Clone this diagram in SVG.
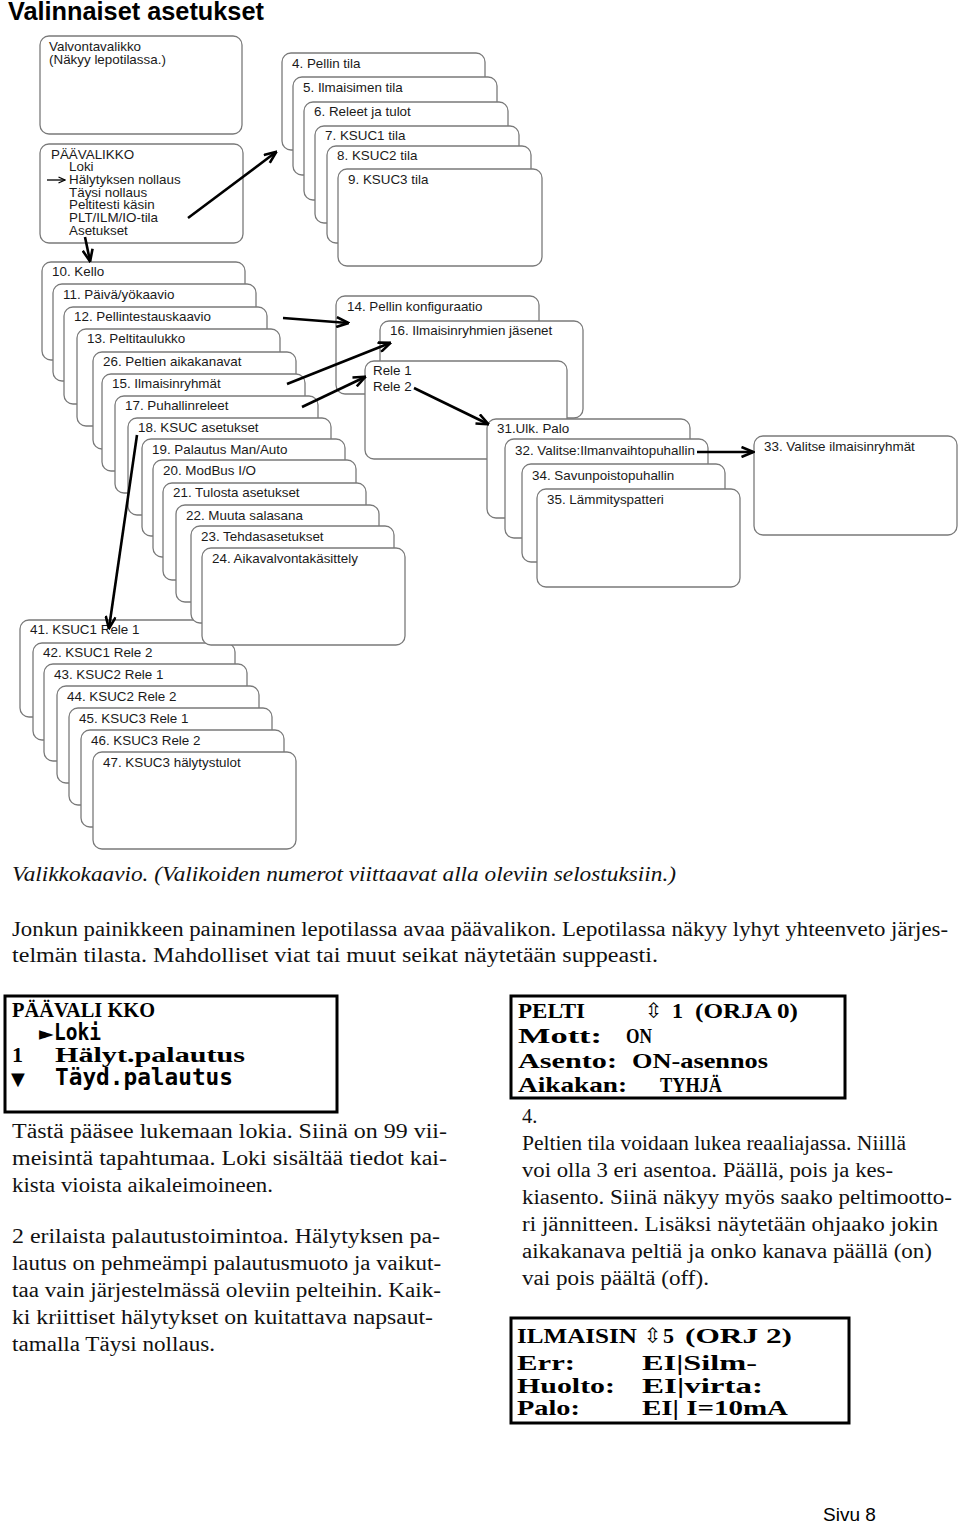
<svg xmlns="http://www.w3.org/2000/svg" width="960" height="1524" viewBox="0 0 960 1524">
<style>
.b{fill:#fff;stroke:#7a7a7a;stroke-width:1.3}
.t{font-family:"Liberation Sans",Arial,sans-serif;font-size:13.4px;fill:#1a1a1a}
.c{fill:none;stroke:#000;stroke-width:2.6}
.p{font-family:"Liberation Serif","Times New Roman",serif;font-size:20.5px;fill:#111}
.l{font-family:"Liberation Serif","Times New Roman",serif;font-size:22px;font-weight:bold;fill:#000}
.m{font-family:"DejaVu Sans Mono",monospace;font-size:23px;font-weight:bold;fill:#000}
.s{font-family:"DejaVu Sans",sans-serif;fill:#000}
.lcd{fill:#fff;stroke:#000;stroke-width:3}
</style>
<defs>
<marker id="ah" viewBox="0 0 14 12" refX="12.5" refY="6" markerWidth="14" markerHeight="12" markerUnits="userSpaceOnUse" orient="auto">
<path d="M1,1 L13,6 L1,11" fill="none" stroke="#000" stroke-width="2.6"/>
</marker>
<marker id="ahs" viewBox="0 0 8 8" refX="7.5" refY="4" markerWidth="8" markerHeight="8" markerUnits="userSpaceOnUse" orient="auto">
<path d="M1,1 L7.5,4 L1,7" fill="none" stroke="#000" stroke-width="1.3"/>
</marker>
</defs>
<rect width="960" height="1524" fill="#fff"/>
<text x="8" y="20" style="font-family:'Liberation Sans',Arial,sans-serif;font-size:25.3px;font-weight:bold;fill:#000">Valinnaiset asetukset</text>

<g id="valvontavalikko"><rect class="b" x="40" y="36" width="202" height="98" rx="9"/>
<text class="t" x="49" y="51">Valvontavalikko</text><text class="t" x="49" y="64">(Näkyy lepotilassa.)</text></g>
<g id="paavalikko"><rect class="b" x="40" y="144" width="203" height="99" rx="9"/>
<text class="t" x="51" y="159">PÄÄVALIKKO</text>
<text class="t" x="69" y="171">Loki</text>
<text class="t" x="69" y="184">Hälytyksen nollaus</text>
<text class="t" x="69" y="197">Täysi nollaus</text>
<text class="t" x="69" y="209">Peltitesti käsin</text>
<text class="t" x="69" y="222">PLT/ILM/IO-tila</text>
<text class="t" x="69" y="235">Asetukset</text></g>

<g id="n4"><rect class="b" x="282" y="53" width="203" height="97" rx="9"/><text class="t" x="292" y="68">4. Pellin tila</text></g>
<g id="n5"><rect class="b" x="293" y="77" width="204" height="98" rx="9"/><text class="t" x="303" y="92">5. Ilmaisimen tila</text></g>
<g id="n6"><rect class="b" x="304" y="102" width="204" height="98" rx="9"/><text class="t" x="314" y="116">6. Releet ja tulot</text></g>
<g id="n7"><rect class="b" x="315" y="126" width="204" height="97" rx="9"/><text class="t" x="325" y="140">7. KSUC1 tila</text></g>
<g id="n8"><rect class="b" x="327" y="146" width="204" height="97" rx="9"/><text class="t" x="337" y="160">8. KSUC2 tila</text></g>
<g id="n9"><rect class="b" x="338" y="169" width="204" height="97" rx="9"/><text class="t" x="348" y="184">9. KSUC3 tila</text></g>

<g id="n41"><rect class="b" x="20" y="620" width="203" height="97" rx="9"/><text class="t" x="30" y="634">41. KSUC1 Rele 1</text></g>
<g id="n42"><rect class="b" x="33" y="643" width="202" height="97" rx="9"/><text class="t" x="43" y="657">42. KSUC1 Rele 2</text></g>
<g id="n43"><rect class="b" x="44" y="664" width="203" height="97" rx="9"/><text class="t" x="54" y="679">43. KSUC2 Rele 1</text></g>
<g id="n44"><rect class="b" x="57" y="686" width="202" height="97" rx="9"/><text class="t" x="67" y="701">44. KSUC2 Rele 2</text></g>
<g id="n45"><rect class="b" x="69" y="708" width="203" height="97" rx="9"/><text class="t" x="79" y="723">45. KSUC3 Rele 1</text></g>
<g id="n46"><rect class="b" x="81" y="730" width="203" height="97" rx="9"/><text class="t" x="91" y="745">46. KSUC3 Rele 2</text></g>
<g id="n47"><rect class="b" x="93" y="752" width="203" height="97" rx="9"/><text class="t" x="103" y="767">47. KSUC3 hälytystulot</text></g>

<g id="n10"><rect class="b" x="42" y="262" width="203" height="98" rx="9"/><text class="t" x="52" y="276">10. Kello</text></g>
<g id="n11"><rect class="b" x="53" y="284" width="203" height="97" rx="9"/><text class="t" x="63" y="299">11. Päivä/yökaavio</text></g>
<g id="n12"><rect class="b" x="64" y="307" width="203" height="97" rx="9"/><text class="t" x="74" y="321">12. Pellintestauskaavio</text></g>
<g id="n13"><rect class="b" x="77" y="329" width="203" height="97" rx="9"/><text class="t" x="87" y="343">13. Peltitaulukko</text></g>
<g id="n26"><rect class="b" x="93" y="352" width="203" height="97" rx="9"/><text class="t" x="103" y="366">26. Peltien aikakanavat</text></g>
<g id="n15"><rect class="b" x="102" y="374" width="203" height="97" rx="9"/><text class="t" x="112" y="388">15. Ilmaisinryhmät</text></g>
<g id="n17"><rect class="b" x="115" y="396" width="203" height="97" rx="9"/><text class="t" x="125" y="410">17. Puhallinreleet</text></g>
<g id="n18"><rect class="b" x="128" y="418" width="203" height="97" rx="9"/><text class="t" x="138" y="432">18. KSUC asetukset</text></g>
<g id="n19"><rect class="b" x="142" y="439" width="203" height="97" rx="9"/><text class="t" x="152" y="454">19. Palautus Man/Auto</text></g>
<g id="n20"><rect class="b" x="153" y="460" width="203" height="97" rx="9"/><text class="t" x="163" y="475">20. ModBus I/O</text></g>
<g id="n21"><rect class="b" x="163" y="483" width="203" height="97" rx="9"/><text class="t" x="173" y="497">21. Tulosta asetukset</text></g>
<g id="n22"><rect class="b" x="176" y="505" width="203" height="97" rx="9"/><text class="t" x="186" y="520">22. Muuta salasana</text></g>
<g id="n23"><rect class="b" x="191" y="526" width="203" height="97" rx="9"/><text class="t" x="201" y="541">23. Tehdasasetukset</text></g>
<g id="n24"><rect class="b" x="202" y="548" width="203" height="97" rx="9"/><text class="t" x="212" y="563">24. Aikavalvontakäsittely</text></g>

<g id="n14"><rect class="b" x="336" y="296" width="203" height="98" rx="9"/><text class="t" x="347" y="311">14. Pellin konfiguraatio</text></g>
<g id="n16"><rect class="b" x="380" y="321" width="203" height="97" rx="9"/><text class="t" x="390" y="335">16. Ilmaisinryhmien jäsenet</text></g>
<g id="rele"><rect class="b" x="365" y="361" width="202" height="98" rx="9"/><text class="t" x="373" y="375">Rele 1</text><text class="t" x="373" y="391">Rele 2</text></g>

<g id="n31"><rect class="b" x="487" y="419" width="203" height="99" rx="9"/><text class="t" x="497" y="433">31.Ulk. Palo</text></g>
<g id="n32"><rect class="b" x="505" y="439" width="203" height="99" rx="9"/><text class="t" x="515" y="455">32. Valitse:Ilmanvaihtopuhallin</text></g>
<g id="n34"><rect class="b" x="522" y="464" width="203" height="98" rx="9"/><text class="t" x="532" y="480">34. Savunpoistopuhallin</text></g>
<g id="n35"><rect class="b" x="537" y="489" width="203" height="98" rx="9"/><text class="t" x="547" y="504">35. Lämmityspatteri</text></g>
<g id="n33"><rect class="b" x="754" y="436" width="203" height="99" rx="9"/><text class="t" x="764" y="451">33. Valitse ilmaisinryhmät</text></g>

<g id="connectors">
<line class="c" x1="188" y1="218" x2="276" y2="152" marker-end="url(#ah)"/>
<line class="c" x1="85" y1="237" x2="90" y2="261" marker-end="url(#ah)"/>
<line class="c" x1="283" y1="318" x2="348" y2="323" marker-end="url(#ah)"/>
<line class="c" x1="287" y1="384" x2="390" y2="343" marker-end="url(#ah)"/>
<line class="c" x1="302" y1="407" x2="365" y2="377" marker-end="url(#ah)"/>
<line class="c" x1="414" y1="388" x2="488" y2="424" marker-end="url(#ah)"/>
<line class="c" x1="137" y1="435" x2="109" y2="628" marker-end="url(#ah)"/>
<line class="c" x1="697" y1="452" x2="753" y2="452" marker-end="url(#ah)"/>
<line x1="47" y1="180" x2="65" y2="180" stroke="#000" stroke-width="1.3" marker-end="url(#ahs)"/>
</g>

<text class="p" x="12" y="881" font-style="italic" textLength="664" lengthAdjust="spacingAndGlyphs">Valikkokaavio. (Valikoiden numerot viittaavat alla oleviin selostuksiin.)</text>
<text class="p" x="12" y="936" textLength="936" lengthAdjust="spacingAndGlyphs">Jonkun painikkeen painaminen lepotilassa avaa päävalikon. Lepotilassa näkyy lyhyt yhteenveto järjes-</text>
<text class="p" x="12" y="962" textLength="646" lengthAdjust="spacingAndGlyphs">telmän tilasta. Mahdolliset viat tai muut seikat näytetään suppeasti.</text>

<g id="lcd1"><rect class="lcd" x="5" y="996" width="332" height="116"/>
<text class="l" x="12" y="1017" textLength="143" lengthAdjust="spacingAndGlyphs">PÄÄVALI KKO</text>
<text class="s" x="39" y="1040" font-size="19">►</text>
<text class="m" x="54" y="1040" textLength="47" lengthAdjust="spacingAndGlyphs">Loki</text>
<text class="l" x="12" y="1062">1</text>
<text class="l" x="55" y="1062" textLength="190" lengthAdjust="spacingAndGlyphs">Hälyt.palautus</text>
<text class="s" x="11" y="1085" font-size="18">▼</text>
<text class="m" x="55" y="1085" textLength="178" lengthAdjust="spacingAndGlyphs">Täyd.palautus</text></g>

<g id="lcd2"><rect class="lcd" x="511" y="996" width="334" height="102"/>
<text class="l" x="518" y="1018" textLength="67" lengthAdjust="spacingAndGlyphs">PELTI</text>
<text class="s" x="645" y="1018" font-size="21">⇳</text>
<text class="l" x="672" y="1018">1</text>
<text class="l" x="695" y="1018" textLength="103" lengthAdjust="spacingAndGlyphs">(ORJA 0)</text>
<text class="l" x="518" y="1043" textLength="84" lengthAdjust="spacingAndGlyphs">Mott:</text>
<text class="l" x="626" y="1043" textLength="26" lengthAdjust="spacingAndGlyphs">ON</text>
<text class="l" x="518" y="1068" textLength="99" lengthAdjust="spacingAndGlyphs">Asento:</text>
<text class="l" x="632" y="1068" textLength="136" lengthAdjust="spacingAndGlyphs">ON-asennos</text>
<text class="l" x="518" y="1092" textLength="109" lengthAdjust="spacingAndGlyphs">Aikakan:</text>
<text class="l" x="660" y="1092" textLength="62" lengthAdjust="spacingAndGlyphs">TYHJÄ</text></g>

<g id="lcd3"><rect class="lcd" x="511" y="1318" width="338" height="105"/>
<text class="l" x="517" y="1343" textLength="120" lengthAdjust="spacingAndGlyphs">ILMAISIN</text>
<text class="s" x="644" y="1343" font-size="21">⇳</text>
<text class="l" x="663" y="1343">5</text>
<text class="l" x="685" y="1343" textLength="107" lengthAdjust="spacingAndGlyphs">(ORJ 2)</text>
<text class="l" x="517" y="1370" textLength="58" lengthAdjust="spacingAndGlyphs">Err:</text>
<text class="l" x="642" y="1370" textLength="115" lengthAdjust="spacingAndGlyphs">EI|Silm-</text>
<text class="l" x="517" y="1393" textLength="98" lengthAdjust="spacingAndGlyphs">Huolto:</text>
<text class="l" x="642" y="1393" textLength="121" lengthAdjust="spacingAndGlyphs">EI|virta:</text>
<text class="l" x="517" y="1415" textLength="63" lengthAdjust="spacingAndGlyphs">Palo:</text>
<text class="l" x="642" y="1415" textLength="146" lengthAdjust="spacingAndGlyphs">EI| I=10mA</text></g>

<text class="p" x="12" y="1138" textLength="435" lengthAdjust="spacingAndGlyphs">Tästä pääsee lukemaan lokia. Siinä on 99 vii-</text>
<text class="p" x="12" y="1165" textLength="435" lengthAdjust="spacingAndGlyphs">meisintä tapahtumaa. Loki sisältää tiedot kai-</text>
<text class="p" x="12" y="1192" textLength="261" lengthAdjust="spacingAndGlyphs">kista vioista aikaleimoineen.</text>
<text class="p" x="12" y="1243" textLength="428" lengthAdjust="spacingAndGlyphs">2 erilaista palautustoimintoa. Hälytyksen pa-</text>
<text class="p" x="12" y="1270" textLength="429" lengthAdjust="spacingAndGlyphs">lautus on pehmeämpi palautusmuoto ja vaikut-</text>
<text class="p" x="12" y="1297" textLength="429" lengthAdjust="spacingAndGlyphs">taa vain järjestelmässä oleviin pelteihin. Kaik-</text>
<text class="p" x="12" y="1324" textLength="421" lengthAdjust="spacingAndGlyphs">ki kriittiset hälytykset on kuitattava napsaut-</text>
<text class="p" x="12" y="1351" textLength="203" lengthAdjust="spacingAndGlyphs">tamalla Täysi nollaus.</text>

<text class="p" x="522" y="1123">4.</text>
<text class="p" x="522" y="1150" textLength="384" lengthAdjust="spacingAndGlyphs">Peltien tila voidaan lukea reaaliajassa. Niillä</text>
<text class="p" x="522" y="1177" textLength="371" lengthAdjust="spacingAndGlyphs">voi olla 3 eri asentoa. Päällä, pois ja kes-</text>
<text class="p" x="522" y="1204" textLength="430" lengthAdjust="spacingAndGlyphs">kiasento. Siinä näkyy myös saako peltimootto-</text>
<text class="p" x="522" y="1231" textLength="416" lengthAdjust="spacingAndGlyphs">ri jännitteen. Lisäksi näytetään ohjaako jokin</text>
<text class="p" x="522" y="1258" textLength="410" lengthAdjust="spacingAndGlyphs">aikakanava peltiä ja onko kanava päällä (on)</text>
<text class="p" x="522" y="1285" textLength="187" lengthAdjust="spacingAndGlyphs">vai pois päältä (off).</text>

<text x="823" y="1521" style="font-family:'Liberation Sans',Arial,sans-serif;font-size:19px;fill:#000">Sivu 8</text>
</svg>
